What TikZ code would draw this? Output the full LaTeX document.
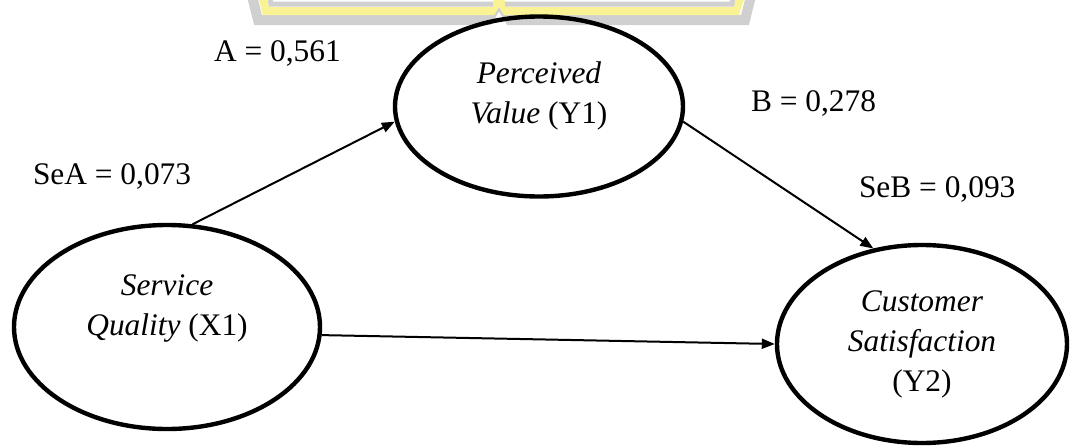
\documentclass[tikz,border=0pt]{standalone}
\usepackage{fontspec}
\setmainfont{Liberation Serif}
\usetikzlibrary{arrows.meta,positioning,shapes.geometric}

\definecolor{markgray}{RGB}{208,208,208}
\definecolor{markyellow}{RGB}{250,243,150}

\begin{document}
\begin{tikzpicture}[x=0.5pt,y=-0.5pt,
                    ->,>={Triangle[length=6.5pt,width=5pt]},line width=1pt,
                    node distance=3cm,on grid,
                    font=\fontsize{15.7pt}{20pt}\selectfont,
                    latent/.style={ellipse,draw,line width=2.2pt,inner sep=0pt,align=center},
                    coef/.style={anchor=base west,inner sep=0pt}]

  \useasboundingbox (0,0) rectangle (1072,445);

  % faint logo at the top
  \draw[-,markgray,line width=5pt,line join=miter] (252,-4) -- (258,20) -- (488,20) -- (499,2) -- (510,20) -- (745,20) -- (751,-4);
  \draw[-,markyellow,line width=4pt,line join=miter] (262,-4) -- (266,11) -- (492,11) -- (499,-1) -- (506,11) -- (736,11) -- (741,-4);
  \draw[-,markgray,line width=2.5pt] (270,-3) -- (271,4) -- (493,4);
  \draw[-,markgray,line width=2.5pt] (505,4) -- (732,4) -- (733,-3);

  \node[latent,minimum width=144pt,minimum height=90pt,text depth=14pt] (pv) at (539,106.5)
       {\textit{Perceived}\\\textit{Value} (Y1)};
  \node[latent,minimum width=153pt,minimum height=102pt,text depth=22pt] (sq)
       [below left=110.25pt and 186pt of pv] {\textit{Service}\\\textit{Quality} (X1)};
  \node[latent,minimum width=145pt,minimum height=99pt] (cs)
       [below right=118.75pt and 191.5pt of pv] {\textit{Customer}\\\textit{Satisfaction}\\(Y2)};

  \node[coef] (a)   at (213,61)  {A = 0,561};
  \node[coef] (sea) at (32,184)  {SeA = 0,073};
  \node[coef] (b)   at (750,111) {B = 0,278};
  \node[coef] (seb) at (858,197) {SeB = 0,093};

  \path (sq.76) edge (pv.186)
        (sq.-3) edge (cs.180)
        (pv.-6) edge (cs.117);
\end{tikzpicture}
\end{document}
